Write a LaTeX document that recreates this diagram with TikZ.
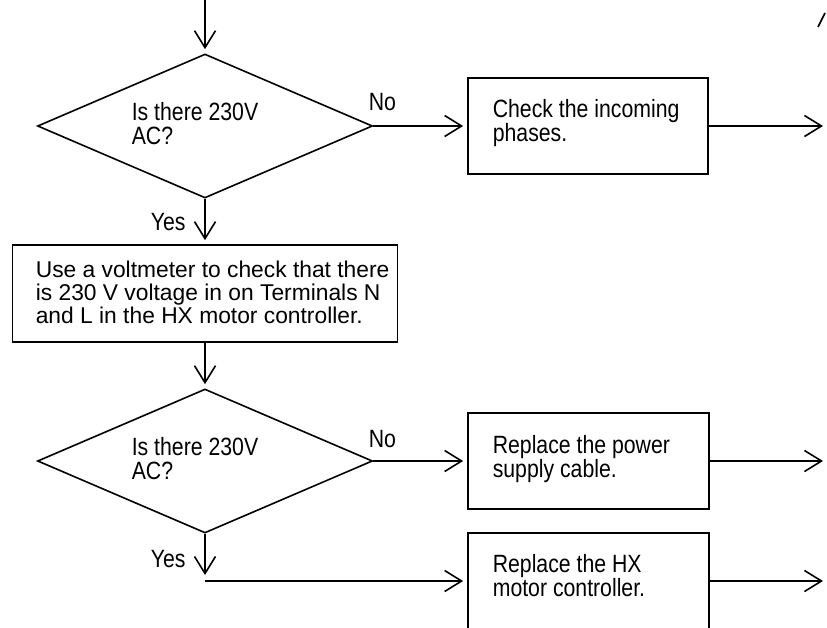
\documentclass[tikz,border=0pt]{standalone}
\usepackage{fontspec}
\setmainfont{Liberation Sans}
\newfontfamily\condf{Liberation Sans}[FakeStretch=0.85]
\usetikzlibrary{shapes.geometric,arrows.meta}
\begin{document}
\begin{tikzpicture}[x=1pt,y=-1pt,
  line width=1.6pt,
  arr/.style={-{Straight Barb[length=17pt,width=21pt,line width=1.6pt]}, shorten >=4pt},
  dec/.style={diamond, draw, minimum width=335pt, minimum height=144pt, inner sep=0pt, aspect=2.33},
  procbox/.style={rectangle, draw, line width=1.7pt, inner sep=0pt},
  txt/.style={anchor=base west, inner sep=0pt, align=left, font=\condf\fontsize{25pt}{24pt}\selectfont},
  txtb/.style={anchor=base west, inner sep=0pt, align=left, font=\fontsize{22.8pt}{23pt}\selectfont},
]
\clip (0,0) rectangle (827,627);

% decisions and boxes (text nodes anchored at the baseline of their last line)
\node[dec] (d1) at (205,126) {};
\node[txt] (t1) at (131,144) {Is there 230V\\AC?};
\node[procbox, minimum width=240pt, minimum height=96pt] (b1) at (588,126) {};
\node[txt] (t2) at (492,141) {Check the incoming\\phases.};
\node[procbox, minimum width=385pt, minimum height=97pt] (b2) at (205,293.5) {};
\node[txtb] (t3) at (35,323) {Use a voltmeter to check that there\\is 230 V voltage in on Terminals N\\and L in the HX motor controller.};
\node[dec] (d2) at (205,461) {};
\node[txt] (t4) at (131,479) {Is there 230V\\AC?};
\node[procbox, minimum width=241pt, minimum height=96pt] (b3) at (588.5,461) {};
\node[txt] (t5) at (492,477) {Replace the power\\supply cable.};
\node[procbox, minimum width=241pt, minimum height=96pt] (b4) at (588.5,581) {};
\node[txt] (t6) at (492,596) {Replace the HX\\motor controller.};

% labels
\node[txt] (no1) at (368,110) {No};
\node[txt] (yes1) at (150,230) {Yes};
\node[txt] (no2) at (368,447) {No};
\node[txt] (yes2) at (150,567) {Yes};

% free ends
\coordinate (top) at (205,0);
\coordinate (e1) at (827,126);
\coordinate (e2) at (827,461);
\coordinate (e3) at (827,581);
\coordinate (y2) at (205,579);
\coordinate (y2b) at (205,581);
\coordinate (s1) at (818,27);
\coordinate (s2) at (825,13);

% connectors
\draw[arr] (top) -- (d1.north);
\draw[arr] (d1.east) -- (b1.west);
\draw[arr] (b1.east) -- (e1);
\draw[arr] (d1.south) -- (b2.north);
\draw[arr] (b2.south) -- (d2.north);
\draw[arr] (d2.east) -- (b3.west);
\draw[arr] (b3.east) -- (e2);
\draw[arr] (d2.south) -- (y2);
\draw[arr] (y2b) -- (b4.west);
\draw[arr] (b4.east) -- (e3);
\draw (s1) -- (s2);
\end{tikzpicture}
\end{document}
